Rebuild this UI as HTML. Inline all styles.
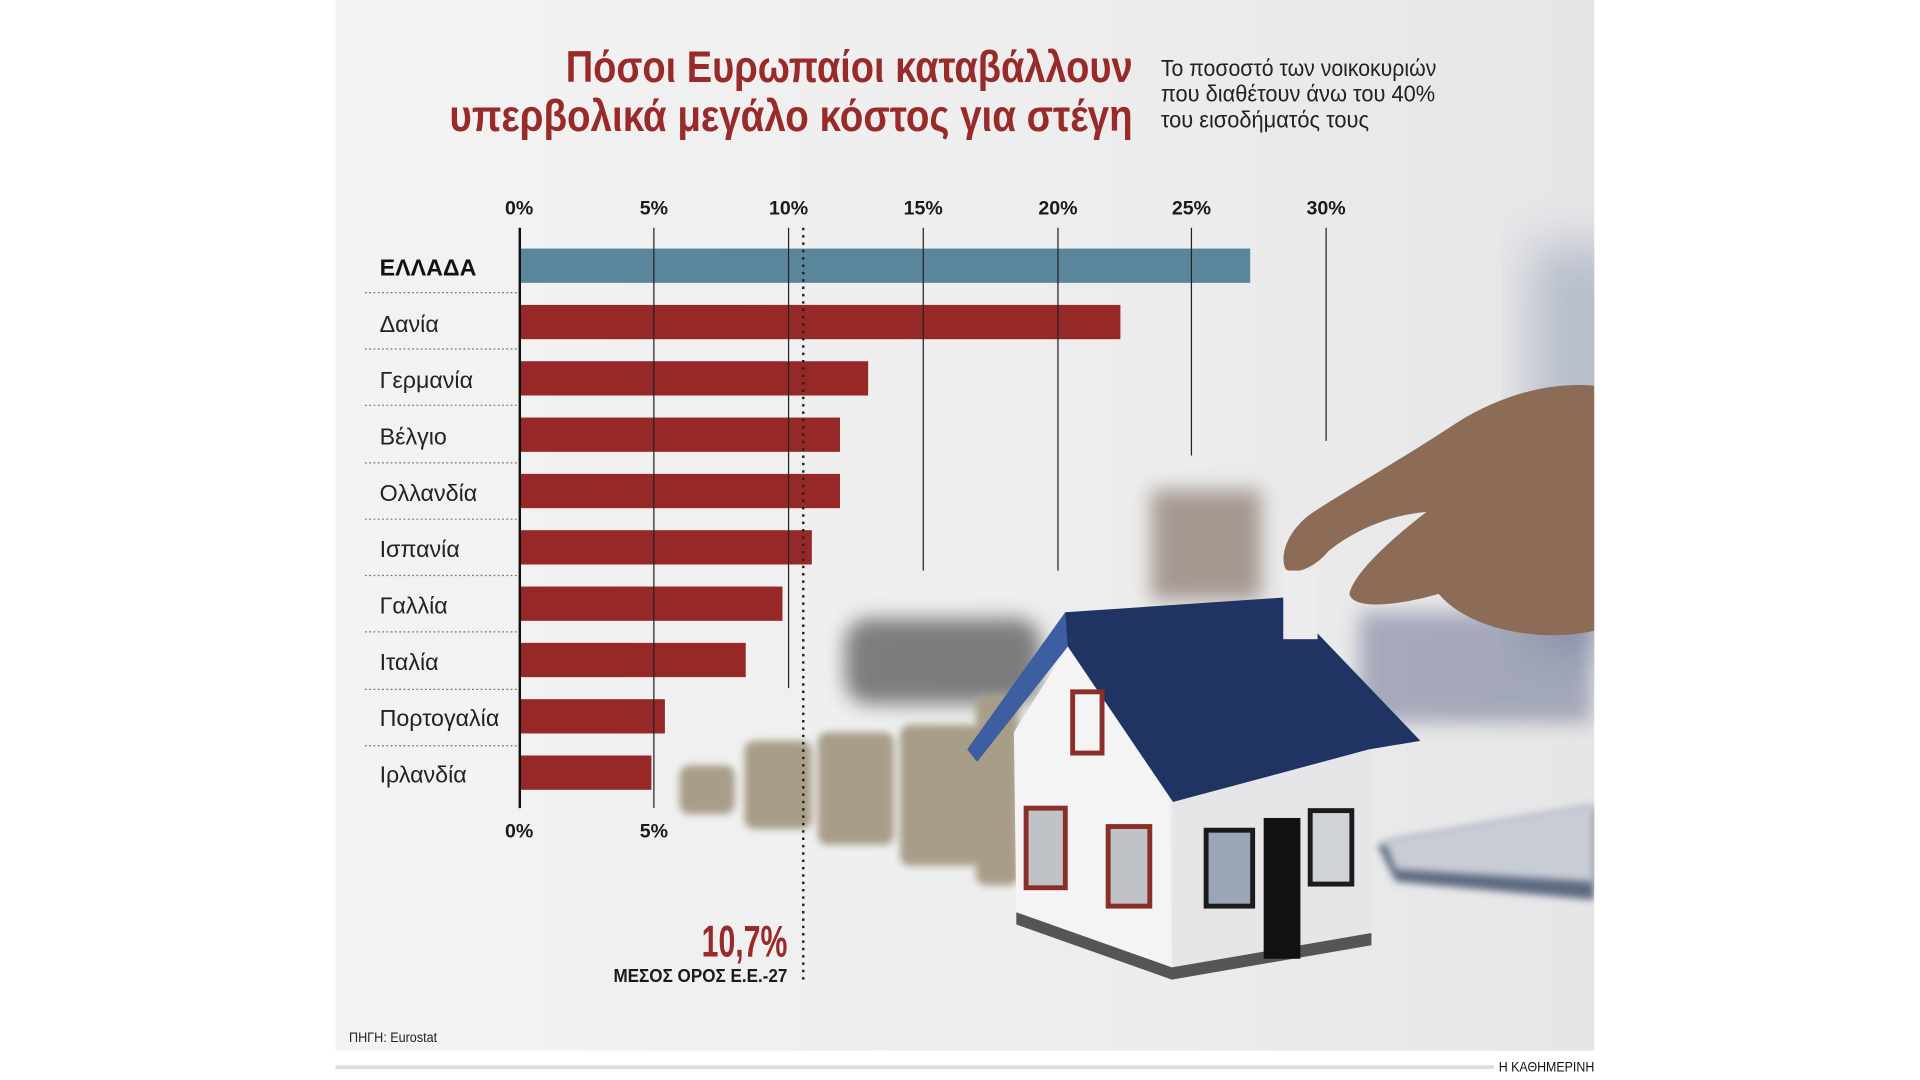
<!DOCTYPE html>
<html><head><meta charset="utf-8"><style>
html,body{margin:0;padding:0;background:#fff;width:1920px;height:1080px;overflow:hidden}
svg{display:block}
text{font-family:"Liberation Sans Narrow","Liberation Sans","Noto Sans CJK SC",sans-serif}
</style></head><body>
<svg width="1920" height="1080" viewBox="0 0 1568 882" xmlns="http://www.w3.org/2000/svg">
<defs>
<filter id="b8" x="-30%" y="-30%" width="160%" height="160%"><feGaussianBlur stdDeviation="8"/></filter>
<filter id="b3" x="-30%" y="-30%" width="160%" height="160%"><feGaussianBlur stdDeviation="3"/></filter>
<filter id="b20" x="-30%" y="-30%" width="160%" height="160%"><feGaussianBlur stdDeviation="20"/></filter>
<linearGradient id="bg" x1="0" y1="0" x2="1" y2="0">
<stop offset="0" stop-color="#f3f3f3"/><stop offset="0.6" stop-color="#ededed"/><stop offset="1" stop-color="#e6e6e8"/>
</linearGradient>
<clipPath id="pc"><rect x="274" y="0" width="1028" height="858"/></clipPath>
</defs>
<rect x="274" y="0" width="1028" height="858" fill="url(#bg)"/>
<g clip-path="url(#pc)">
<rect x="1250" y="200" width="80" height="330" fill="#8895ae" filter="url(#b20)" opacity="0.5"/>
<rect x="940" y="400" width="90" height="90" fill="#6e5546" filter="url(#b8)" opacity="0.55"/>
<rect x="690" y="505" width="160" height="70" rx="20" fill="#4e4e50" filter="url(#b8)" opacity="0.7"/>
<rect x="1110" y="500" width="190" height="90" fill="#3f4c72" filter="url(#b8)" opacity="0.4"/>
<polygon points="1125,690 1302,660 1302,735 1140,720" fill="#5d6a80" filter="url(#b3)"/>
<polygon points="1130,685 1302,655 1302,720 1140,710" fill="#c8ccd4" filter="url(#b3)"/>
<g filter="url(#b3)" fill="#a89d88">
<rect x="555" y="625" width="45" height="40" rx="8"/>
<rect x="608" y="605" width="55" height="72" rx="8"/>
<rect x="668" y="598" width="62" height="92" rx="8"/>
<rect x="735" y="592" width="65" height="115" rx="8"/>
<rect x="797" y="568" width="35" height="155" rx="8"/>
</g>
<path d="M1302,315 C1270,312 1230,320 1190,345 C1140,378 1100,400 1070,420 C1050,435 1045,455 1050,465 C1060,470 1075,462 1085,450 C1110,430 1140,420 1165,418 C1130,445 1105,470 1102,485 C1105,498 1140,495 1175,485 C1200,515 1260,525 1302,515 Z" fill="#8c6b57"/>
<polygon points="790,612 870,500 1048,488 1160,605 1118,612 958,655 872,528 798,622" fill="#1f3462"/>
<polygon points="790,612 870,500 872,528 798,622" fill="#3d5ea0"/>
<rect x="1048" y="466" width="28" height="56" fill="#ececee"/>
<polygon points="828,598 872,528 955,652 957,790 830,745" fill="#f4f4f4"/>
<polygon points="958,655 1120,612 1120,762 957,790" fill="#e6e6e8"/>
<polygon points="830,745 957,790 1120,762 1120,772 957,800 830,755" fill="#555"/>
<rect x="876" y="565" width="24" height="50" fill="none" stroke="#8a2e2a" stroke-width="4"/>
<rect x="838" y="660" width="32" height="65" fill="#bfc3c8" stroke="#8a2e2a" stroke-width="4"/>
<rect x="905" y="675" width="34" height="65" fill="#bfc3c8" stroke="#8a2e2a" stroke-width="4"/>
<rect x="985" y="678" width="38" height="62" fill="#9aa6b5" stroke="#1b1b1b" stroke-width="4"/>
<rect x="1070" y="662" width="34" height="60" fill="#cfd2d6" stroke="#1b1b1b" stroke-width="4"/>
<rect x="1032" y="668" width="30" height="115" fill="#111"/>
</g>
<text x="925" y="67" text-anchor="end" font-size="36" font-weight="bold" fill="#992a2a" textLength="463" lengthAdjust="spacingAndGlyphs">Πόσοι Ευρωπαίοι καταβάλλουν</text>
<text x="925" y="107" text-anchor="end" font-size="36" font-weight="bold" fill="#992a2a" textLength="558" lengthAdjust="spacingAndGlyphs">υπερβολικά μεγάλο κόστος για στέγη</text>
<g font-size="19" fill="#222">
<text x="948" y="62" textLength="225" lengthAdjust="spacingAndGlyphs">Το ποσοστό των νοικοκυριών</text>
<text x="948" y="83" textLength="224" lengthAdjust="spacingAndGlyphs">που διαθέτουν άνω του 40%</text>
<text x="948" y="104" textLength="170" lengthAdjust="spacingAndGlyphs">του εισοδήματός τους</text>
</g>
<g font-size="16" font-weight="bold" fill="#1a1a1a" text-anchor="middle">
<text x="424" y="175">0%</text><text x="534" y="175">5%</text><text x="644" y="175">10%</text>
<text x="754" y="175">15%</text><text x="864" y="175">20%</text><text x="973" y="175">25%</text><text x="1083" y="175">30%</text>
<text x="424" y="684">0%</text><text x="534" y="684">5%</text>
</g>
<rect x="424" y="203" width="597" height="28" fill="#5a869c"/>
<g fill="#962828">
<rect x="424" y="249" width="491" height="28"/>
<rect x="424" y="295" width="285" height="28"/>
<rect x="424" y="341" width="262" height="28"/>
<rect x="424" y="387" width="262" height="28"/>
<rect x="424" y="433" width="239" height="28"/>
<rect x="424" y="479" width="215" height="28"/>
<rect x="424" y="525" width="185" height="28"/>
<rect x="424" y="571" width="119" height="28"/>
<rect x="424" y="617" width="108" height="28"/>
</g>
<g stroke="#222" stroke-width="1">
<line x1="534" y1="186" x2="534" y2="660"/>
<line x1="644" y1="186" x2="644" y2="562"/>
<line x1="754" y1="186" x2="754" y2="466"/>
<line x1="864" y1="186" x2="864" y2="466"/>
<line x1="973" y1="186" x2="973" y2="372"/>
<line x1="1083" y1="186" x2="1083" y2="360"/>
</g>
<line x1="424.5" y1="186" x2="424.5" y2="660" stroke="#111" stroke-width="2"/>
<line x1="656" y1="186" x2="656" y2="802" stroke="#222" stroke-width="2" stroke-dasharray="2,4"/>
<g stroke="#777" stroke-width="1" stroke-dasharray="1.5,2">
<line x1="298" y1="239" x2="423" y2="239"/><line x1="298" y1="285" x2="423" y2="285"/>
<line x1="298" y1="331" x2="423" y2="331"/><line x1="298" y1="378" x2="423" y2="378"/>
<line x1="298" y1="424" x2="423" y2="424"/><line x1="298" y1="470" x2="423" y2="470"/>
<line x1="298" y1="516" x2="423" y2="516"/><line x1="298" y1="563" x2="423" y2="563"/>
<line x1="298" y1="609" x2="423" y2="609"/>
</g>
<text x="310" y="225" font-size="19" font-weight="bold" fill="#111">ΕΛΛΑΔΑ</text>
<g font-size="19" fill="#222">
<text x="310" y="271">Δανία</text><text x="310" y="317">Γερμανία</text><text x="310" y="363">Βέλγιο</text>
<text x="310" y="409">Ολλανδία</text><text x="310" y="455">Ισπανία</text><text x="310" y="501">Γαλλία</text>
<text x="310" y="547">Ιταλία</text><text x="310" y="593">Πορτογαλία</text><text x="310" y="639">Ιρλανδία</text>
</g>
<text x="643" y="781" text-anchor="end" font-size="36" font-weight="bold" fill="#992a2a" textLength="70" lengthAdjust="spacingAndGlyphs">10,7%</text>
<text x="643" y="802" text-anchor="end" font-size="15" font-weight="bold" fill="#1a1a1a" textLength="142" lengthAdjust="spacingAndGlyphs">ΜΕΣΟΣ ΟΡΟΣ Ε.Ε.-27</text>
<text x="285" y="851" font-size="11" fill="#222" textLength="72" lengthAdjust="spacingAndGlyphs">ΠΗΓΗ: Eurostat</text>
<rect x="274" y="870" width="946" height="3" fill="#dcdcdc"/>
<text x="1302" y="875" text-anchor="end" font-size="11" fill="#111" textLength="78" lengthAdjust="spacingAndGlyphs">Η ΚΑΘΗΜΕΡΙΝΗ</text>
</svg>
</body></html>
